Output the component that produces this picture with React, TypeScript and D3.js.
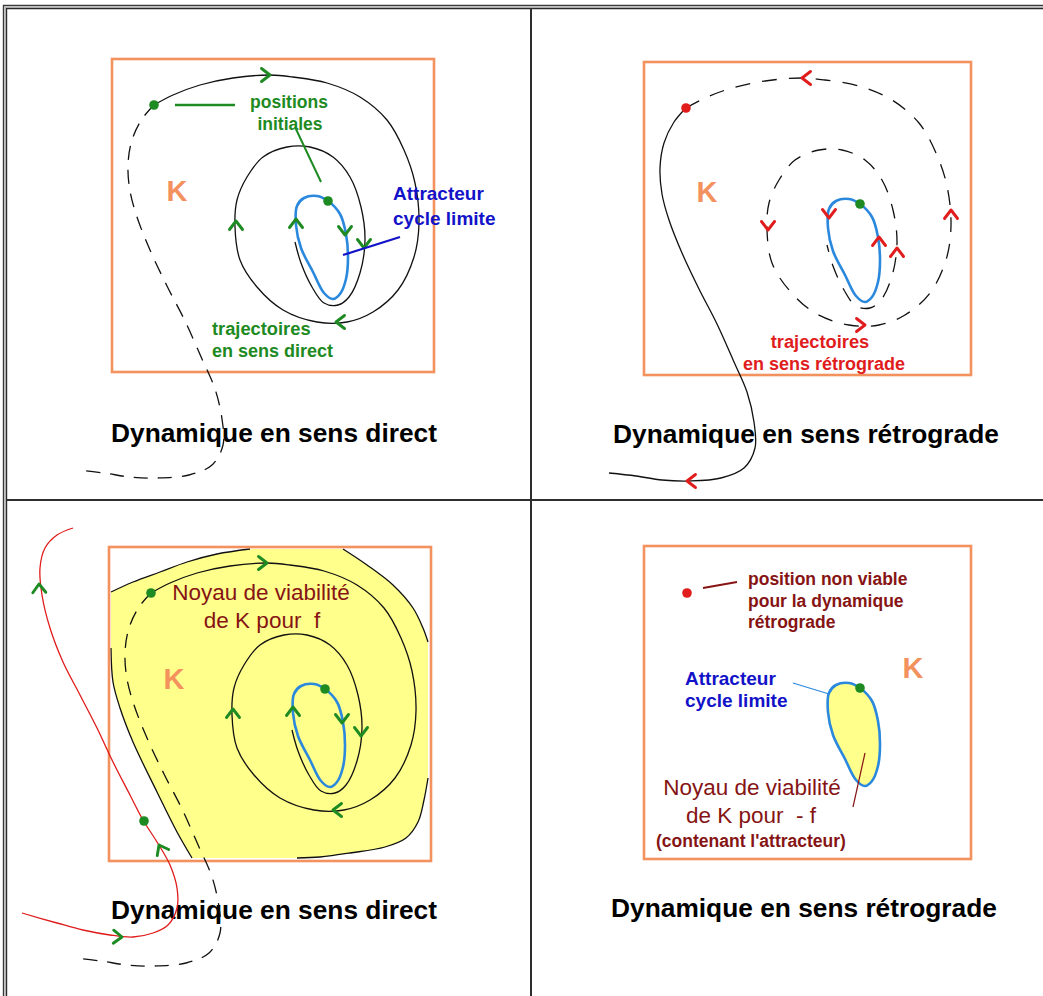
import React from 'react';
import * as d3 from 'd3';

type P = [number, number];
type Arr = { x: number; y: number; a: number };

// K boxes: top-left corner and size for the four panels
const boxX = [112, 644, 109, 644];
const boxY = [59, 62, 547, 546];
const boxW = [322, 327, 322, 327];
const boxH = [313, 313, 314, 313];

// trajectory spiralling toward the limit cycle (box-local coordinates)
const spiral: P[] = [[42,46],[61,36],[88,26],[121,19],[158,16],[181,18],[215,24],[248,38],[275,61],[292,91],[303,124],[307,164],[302,198],[286,231],[261,253],[235,263],[205,263],[171,251],[145,228],[128,201],[123,168],[125,141],[135,118],[151,98],[175,88],[198,88],[221,98],[238,118],[249,148],[253,181],[248,214],[237,238],[226,246],[212,244],[200,228],[189,204],[183,183]];
// part of the trajectory that lies before the initial position
const approach: P[] = [[42,46],[30,60],[20,81],[16,106],[18,132],[25,158],[38,191],[55,227],[73,262],[90,300],[103,330],[110,360],[111,386],[100,406],[77,416],[46,419],[18,418],[-8,414],[-35,411]];
// limit cycle
const cycle: P[] = [[216,142],[228,155],[234,175],[236,198],[234,220],[228,235],[221,240],[212,234],[201,213],[189,189],[184,166],[185,147],[192,139],[205,137]];

const arrowsDirect: Arr[] = [{x:158,y:16,a:0},{x:224,y:263,a:180},{x:124,y:162,a:-90},{x:184,y:160,a:-90},{x:233,y:176,a:90},{x:252,y:189,a:90}];
const arrowsRetro: Arr[] = [{x:158,y:16,a:180},{x:307,y:148,a:-90},{x:221,y:263,a:0},{x:124,y:168,a:90},{x:253,y:186,a:-90},{x:185,y:156,a:90},{x:235,y:175,a:-90},{x:43,y:419,a:180}];

// panel 3: red trajectory leaving K (page coordinates)
const redPath: P[] = [[22,913],[57,923],[83,930],[110,935],[133,937],[153,933],[168,925],[177,908],[177,888],[170,865],[157,842],[143,820],[130,795],[113,762],[97,728],[80,695],[63,662],[50,628],[42,595],[40,568],[45,548],[57,535],[73,528]];
const redArrows: Arr[] = [{x:39,y:584,a:-92},{x:159,y:845,a:-118},{x:122,y:937,a:2}];
// panel 3: boundary of the viability kernel (page coordinates)
const kernA: P[] = [[111,592],[133,582],[160,572],[187,562],[217,554],[250,549]];
const kernB: P[] = [[343,549],[367,565],[393,585],[413,608],[423,628],[428,642]];
const kernC: P[] = [[428,778],[424,800],[418,822],[406,838],[385,847],[350,853],[320,857],[297,858]];
const kernD: P[] = [[192,858],[177,832],[157,792],[133,742],[120,708],[113,682],[111,648]];

const titles = ['Dynamique en sens direct', 'Dynamique en sens rétrograde', 'Dynamique en sens direct', 'Dynamique en sens rétrograde'];
const titleX = [274, 806, 274, 804];
const titleY = [442, 443, 919, 917];

const ORANGE = '#f3925e';
const GREEN = '#1e8a22';
const BLUEC = '#2a88dd';
const BLUET = '#1212c8';
const RED = '#e01c1c';
const DRED = '#861414';
const YELLOW = '#ffff8c';
const FONT = "'Liberation Sans', Arial, Helvetica, sans-serif";

const Arrow = ({ x, y, a, color }: { x: number; y: number; a: number; color: string }) => (
  <path d="M-8.5,-6.5 L0,0 L-8.5,6.5" transform={`translate(${x},${y}) rotate(${a})`} fill="none" stroke={color} strokeWidth={2.9} strokeLinecap="round" strokeLinejoin="round" />
);

function scalesFor(i: number) {
  const x = d3.scaleLinear().domain([0, boxW[i]]).range([boxX[i], boxX[i] + boxW[i]]);
  const y = d3.scaleLinear().domain([0, boxH[i]]).range([boxY[i], boxY[i] + boxH[i]]);
  const open = d3.line<P>().x(d => x(d[0])).y(d => y(d[1])).curve(d3.curveCatmullRom.alpha(0.5));
  const closed = d3.line<P>().x(d => x(d[0])).y(d => y(d[1])).curve(d3.curveCatmullRomClosed.alpha(0.5));
  return { x, y, open, closed };
}

const pageLine = d3.line<P>().x(d => d[0]).y(d => d[1]).curve(d3.curveCatmullRom.alpha(0.5));

function Box({ i }: { i: number }) {
  return <rect x={boxX[i]} y={boxY[i]} width={boxW[i]} height={boxH[i]} fill="none" stroke={ORANGE} strokeWidth={2.6} />;
}

function KLabel({ x, y }: { x: number; y: number }) {
  return <text x={x} y={y} textAnchor="middle" fontFamily={FONT} fontWeight="bold" fontSize={29} fill={ORANGE}>K</text>;
}

function Title({ i }: { i: number }) {
  return <text x={titleX[i]} y={titleY[i]} textAnchor="middle" fontFamily={FONT} fontWeight="bold" fontSize={26.3} fill="#000">{titles[i]}</text>;
}

function PanelDirect({ i, kernel }: { i: number; kernel: boolean }) {
  const s = scalesFor(i);
  return (
    <g>
      {!kernel && <Box i={i} />}
      <Title i={i} />
      <path d={s.open(spiral)!} fill="none" stroke="#111" strokeWidth={1.3} />
      <path d={s.open(approach)!} fill="none" stroke="#111" strokeWidth={1.3} strokeDasharray="14,10" />
      <path d={s.closed(cycle)!} fill="none" stroke={BLUEC} strokeWidth={2.6} />
      {arrowsDirect.map((a, k) => <Arrow key={k} x={s.x(a.x)} y={s.y(a.y)} a={a.a} color={GREEN} />)}
      <circle cx={s.x(spiral[0][0])} cy={s.y(spiral[0][1])} r={4.8} fill={GREEN} />
      <circle cx={s.x(cycle[0][0])} cy={s.y(cycle[0][1])} r={4.8} fill={GREEN} />
      <KLabel x={s.x(65)} y={s.y(142)} />
    </g>
  );
}

export default function App() {
  const s1 = scalesFor(0);
  const s2 = scalesFor(1);
  const s4 = scalesFor(3);
  const seg = (pts: P[]) => pageLine(pts)!.replace(/^M/, 'L');
  const kernelFill = pageLine(kernA)! + seg(kernB) + seg(kernC) + seg(kernD) + 'Z';
  return (
    <svg width={1043} height={996} style={{ position: 'absolute', left: 0, top: 0, background: '#fff' }}>
      <rect x={0} y={0} width={1043} height={996} fill="#fff" />
      {/* frame */}
      <g fill="none">
        <path d="M3.5,996 V5.5 H1043" stroke="#3a3a3a" strokeWidth={1.4} />
        <path d="M5,996 V7 H1043" stroke="#b4b4b4" strokeWidth={1.2} />
        <path d="M6.5,996 V8.5 H1043" stroke="#2a2a2a" strokeWidth={1.4} />
        <path d="M531,8 V996" stroke="#2e2e2e" strokeWidth={2} />
        <path d="M6,500 H1043" stroke="#2e2e2e" strokeWidth={2} />
      </g>

      {/* Panel 1: direct dynamics */}
      <PanelDirect i={0} kernel={false} />
      <line x1={s1.x(63)} y1={s1.y(46)} x2={s1.x(123)} y2={s1.y(46)} stroke={GREEN} strokeWidth={2.4} />
      <line x1={s1.x(183)} y1={s1.y(68)} x2={s1.x(209)} y2={s1.y(123)} stroke={GREEN} strokeWidth={2} />
      <line x1={s1.x(231)} y1={s1.y(196)} x2={s1.x(288)} y2={s1.y(178)} stroke={BLUET} strokeWidth={2.2} />
      <g fontFamily={FONT} fontWeight="bold">
        <text x={289} y={108} textAnchor="middle" fontSize={17.5} fill={GREEN}>positions</text>
        <text x={290} y={130} textAnchor="middle" fontSize={17.5} fill={GREEN}>initiales</text>
        <text x={393} y={200} fontSize={19} fill={BLUET}>Attracteur</text>
        <text x={393} y={225} fontSize={19} fill={BLUET}>cycle limite</text>
        <text x={212} y={335} fontSize={18.3} fill={GREEN}>trajectoires</text>
        <text x={212} y={357} fontSize={18} fill={GREEN}>en sens direct</text>
      </g>

      {/* Panel 2: retrograde dynamics */}
      <Box i={1} />
      <Title i={1} />
      <path d={s2.open(spiral)!} fill="none" stroke="#111" strokeWidth={1.3} strokeDasharray="15,12" />
      <path d={s2.open(approach)!} fill="none" stroke="#111" strokeWidth={1.3} />
      <path d={s2.closed(cycle)!} fill="none" stroke={BLUEC} strokeWidth={2.6} />
      {arrowsRetro.map((a, k) => <Arrow key={k} x={s2.x(a.x)} y={s2.y(a.y)} a={a.a} color={RED} />)}
      <circle cx={s2.x(spiral[0][0])} cy={s2.y(spiral[0][1])} r={4.8} fill={RED} />
      <circle cx={s2.x(cycle[0][0])} cy={s2.y(cycle[0][1])} r={4.8} fill={GREEN} />
      <KLabel x={s2.x(63)} y={s2.y(140)} />
      <g fontFamily={FONT} fontWeight="bold" fill={RED}>
        <text x={820} y={348} textAnchor="middle" fontSize={18.3}>trajectoires</text>
        <text x={824} y={370} textAnchor="middle" fontSize={18}>en sens rétrograde</text>
      </g>

      {/* Panel 3: viability kernel for f */}
      <path d={kernelFill} fill={YELLOW} stroke="none" />
      {[kernA, kernB, kernC, kernD].map((k, j) => <path key={j} d={pageLine(k)!} fill="none" stroke="#111" strokeWidth={1.3} />)}
      <Box i={2} />
      <PanelDirect i={2} kernel={true} />
      <path d={pageLine(redPath)!} fill="none" stroke={RED} strokeWidth={1.3} />
      {redArrows.map((a, k) => <Arrow key={k} x={a.x} y={a.y} a={a.a} color={GREEN} />)}
      <circle cx={144} cy={821} r={4.8} fill={GREEN} />
      <g fontFamily={FONT} fill={DRED}>
        <text x={261} y={600} textAnchor="middle" fontSize={22.5}>Noyau de viabilité</text>
        <text x={262} y={628} textAnchor="middle" fontSize={22.5}>{'de K pour\u00a0 f'}</text>
      </g>

      {/* Panel 4: viability kernel for -f */}
      <Box i={3} />
      <Title i={3} />
      <path d={s4.closed(cycle)!} fill={YELLOW} stroke={BLUEC} strokeWidth={2.6} />
      <circle cx={s4.x(cycle[0][0])} cy={s4.y(cycle[0][1])} r={4.8} fill={GREEN} />
      <circle cx={s4.x(43)} cy={s4.y(47)} r={4.8} fill={RED} />
      <line x1={s4.x(59)} y1={s4.y(42)} x2={s4.x(93)} y2={s4.y(36)} stroke={DRED} strokeWidth={2.2} />
      <line x1={s4.x(149)} y1={s4.y(137)} x2={s4.x(185)} y2={s4.y(148)} stroke={BLUEC} strokeWidth={1.2} />
      <line x1={s4.x(221)} y1={s4.y(207)} x2={s4.x(209)} y2={s4.y(261)} stroke={DRED} strokeWidth={1.2} />
      <KLabel x={s4.x(269)} y={s4.y(132)} />
      <g fontFamily={FONT} fontWeight="bold">
        <text x={748} y={585} fontSize={17.5} fill={DRED}>position non viable</text>
        <text x={748} y={607} fontSize={17.5} fill={DRED}>pour la dynamique</text>
        <text x={748} y={628} fontSize={17.5} fill={DRED}>rétrograde</text>
        <text x={685} y={685} fontSize={19} fill={BLUET}>Attracteur</text>
        <text x={685} y={707} fontSize={19} fill={BLUET}>cycle limite</text>
        <text x={751} y={847} textAnchor="middle" fontSize={17.5} fill={DRED}>(contenant l'attracteur)</text>
      </g>
      <g fontFamily={FONT} fill={DRED}>
        <text x={752} y={795} textAnchor="middle" fontSize={22.5}>Noyau de viabilité</text>
        <text x={751} y={823} textAnchor="middle" fontSize={22.5}>{'de K pour\u00a0 - f'}</text>
      </g>
    </svg>
  );
}
